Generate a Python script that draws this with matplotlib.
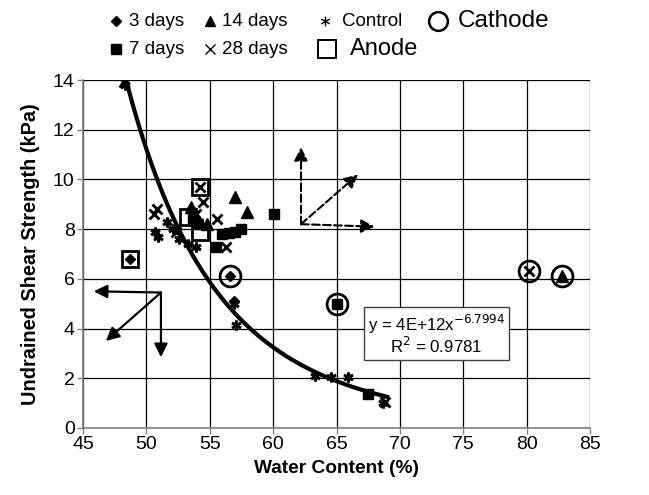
import matplotlib.pyplot as plt
from matplotlib.lines import Line2D
from matplotlib.path import Path
import numpy as np

plt.rcParams['font.family'] = ['Liberation Sans', 'DejaVu Sans']

# measured points: water content (%) vs undrained shear strength (kPa)
control_x = [48.3, 50.7, 50.9, 51.6, 52.1, 52.6, 53.3, 53.9, 56.9, 57.1, 63.3, 64.6, 65.9, 68.7]
control_y = [13.8, 7.9, 7.7, 8.3, 8.0, 7.6, 7.4, 7.3, 5.0, 4.15, 2.1, 2.05, 2.05, 1.0]

days3_x = [48.7, 53.5, 53.8, 56.6, 56.9]
days3_y = [6.8, 8.8, 8.5, 6.1, 5.1]

days7_x = [53.7, 54.1, 55.5, 56.0, 56.5, 57.0, 57.5, 60.1, 65.0, 67.5]
days7_y = [8.4, 8.2, 7.3, 7.8, 7.85, 7.9, 8.0, 8.6, 5.0, 1.35]

days14_x = [53.5, 54.8, 57.0, 57.9, 82.8]
days14_y = [8.9, 8.2, 9.3, 8.7, 6.1]

days28_x = [48.2, 50.6, 50.8, 52.3, 53.9, 54.2, 54.5, 55.6, 56.3, 68.8, 80.2]
days28_y = [13.9, 8.6, 8.8, 7.9, 8.6, 9.7, 9.1, 8.4, 7.3, 1.05, 6.3]

anode_x = [48.7, 53.3, 54.2, 54.2]
anode_y = [6.8, 8.5, 7.9, 9.7]

cathode_x = [56.6, 65.0, 80.2, 82.8]
cathode_y = [6.1, 5.0, 6.3, 6.1]

# power-law fit y = a * x^b
fit_a = 4e12
fit_b = -6.7994
fit_r2 = 0.9781
fit_range = [48.2, 69.0]

# arrow sketches: (start, tip)
solid_arrows = [((51.15, 5.45), (45.85, 5.5)),
                ((51.15, 5.45), (51.15, 2.85)),
                ((51.15, 5.45), (46.8, 3.5))]
dashed_arrows = [((62.2, 8.2), (62.2, 11.3)),
                 ((62.2, 8.2), (66.7, 10.2)),
                 ((62.2, 8.2), (68.0, 8.1))]

# six-spoke asterisk for the control samples
ast = Path([(0, -1), (0, 1), (-0.87, -0.5), (0.87, 0.5), (-0.87, 0.5), (0.87, -0.5)],
           [Path.MOVETO, Path.LINETO] * 3)

W, H = 649, 495
fig = plt.figure(figsize=(W / 100, H / 100), dpi=100)
ax = fig.add_axes([83 / W, 1 - 428 / H, 507 / W, 348 / H])

ax.set_xlim(45, 85)
ax.set_ylim(0, 14)
ax.set_xticks(np.arange(45, 86, 5))
ax.set_yticks(np.arange(0, 15, 2))
ax.grid(True, color='black', linewidth=0.9)
ax.set_axisbelow(True)
for side in ['top', 'right']:
    ax.spines[side].set_visible(False)
for side in ['left', 'bottom']:
    ax.spines[side].set_color('#808080')
    ax.spines[side].set_linewidth(1.2)
ax.tick_params(direction='out', length=4, width=1, color='#808080', labelsize=14, pad=2)

# fitted curve
xf = np.linspace(fit_range[0], fit_range[1], 200)
ax.plot(xf, fit_a * xf ** fit_b, color='black', linewidth=3, zorder=3)

ax.plot(control_x, control_y, linestyle='none', marker=ast, markersize=7.5,
        markeredgewidth=2.2, color='black', zorder=4)
ax.plot(days28_x, days28_y, linestyle='none', marker='x', markersize=6.5,
        markeredgewidth=2, color='black', zorder=4)
ax.plot(days3_x, days3_y, linestyle='none', marker='D', markersize=5.5, color='black', zorder=4)
ax.plot(days7_x, days7_y, linestyle='none', marker='s', markersize=6.5, color='black', zorder=4)
ax.plot(days14_x, days14_y, linestyle='none', marker='^', markersize=8, color='black', zorder=4)
ax.plot(anode_x, anode_y, linestyle='none', marker='s', markersize=11.5, markerfacecolor='none',
        markeredgecolor='black', markeredgewidth=2, zorder=4)
ax.plot(cathode_x, cathode_y, linestyle='none', marker='o', markersize=15, markerfacecolor='none',
        markeredgecolor='black', markeredgewidth=2, zorder=4)

for start, tip in solid_arrows:
    ax.annotate('', xy=tip, xytext=start,
                arrowprops=dict(arrowstyle='-|>', color='black', lw=1.6, mutation_scale=20,
                                shrinkA=0, shrinkB=0))
for start, tip in dashed_arrows:
    ax.annotate('', xy=tip, xytext=start,
                arrowprops=dict(arrowstyle='-|>', color='black', lw=1.5, linestyle='--',
                                mutation_scale=20, shrinkA=0, shrinkB=0))

ax.text(72.9, 3.76, 'y = 4E+12x$^{%.4f}$\nR$^2$ = %.4f' % (fit_b, fit_r2),
        ha='center', va='center', fontsize=12.2, multialignment='center', linespacing=1.0,
        bbox=dict(boxstyle='square,pad=0.22', facecolor='white', edgecolor='#404040', lw=1),
        zorder=5)

ax.set_xlabel('Water Content (%)', fontsize=13.8, fontweight='bold', labelpad=5)
ax.set_ylabel('Undrained Shear Strength (kPa)', fontsize=14.3, fontweight='bold', labelpad=9)

# key above the axes: (marker style, label, font size, marker x, text x, row y) in pixels
key = [
    (dict(marker='D', markersize=5.5, color='black'), '3 days', 13.5, 116, 129, 21),
    (dict(marker='s', markersize=7, color='black'), '7 days', 13.5, 116, 129, 49),
    (dict(marker='^', markersize=7.5, color='black'), '14 days', 13.5, 210, 222, 21),
    (dict(marker='x', markersize=7, markeredgewidth=1, color='black'), '28 days', 13.5, 210, 222, 49),
    (dict(marker=ast, markersize=7, markeredgewidth=1, color='black'), 'Control', 13.5, 325, 342, 21),
    (dict(marker='s', markersize=13, markerfacecolor='none', markeredgecolor='black',
          markeredgewidth=1.4), 'Anode', 17, 327, 350, 49),
    (dict(marker='o', markersize=13.5, markerfacecolor='none', markeredgecolor='black',
          markeredgewidth=1.8), 'Cathode', 17.5, 438, 458, 21),
]
for style, label, size, mx, tx, ry in key:
    fig.add_artist(Line2D([mx / W], [1 - ry / H], transform=fig.transFigure,
                          linestyle='none', **style))
    fig.text(tx / W, 1 - ry / H, label, fontsize=size, ha='left', va='center')

fig.savefig('out.png', dpi=100)
